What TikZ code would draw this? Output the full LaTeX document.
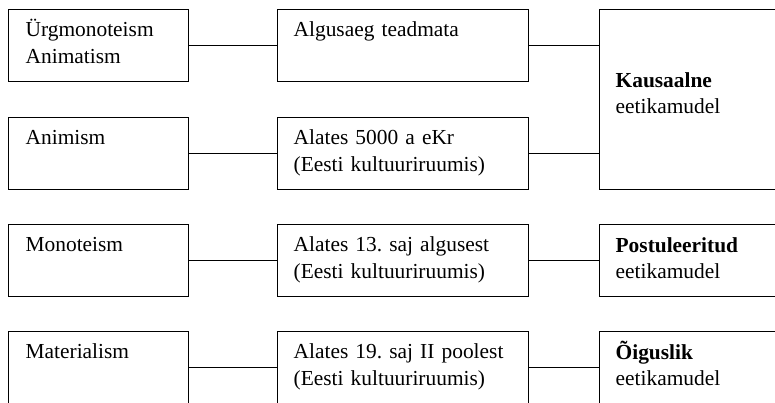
\documentclass[tikz,border=0pt]{standalone}
\usepackage{fontspec}
\setmainfont{Liberation Serif}
\frenchspacing

\begin{document}
\begin{tikzpicture}[x=1pt,y=-1pt,line width=1.3pt,
  box/.style={draw,inner sep=0pt,anchor=north west},
  txt/.style={inner sep=0pt,anchor=base west,align=left,text width=240pt,
    font=\fontsize{21.4}{26.8}\selectfont}]
\useasboundingbox (0,0) rectangle (775,402);
\clip (0,0) rectangle (775,402);
\foreach \i/\y/\a/\b in {1/9/{Ürgmonoteism\\Animatism}/{Algusaeg teadmata},
  2/117/{Animism}/{Alates 5000 a eKr\\(Eesti kultuuriruumis)},
  3/224/{Monoteism}/{Alates 13. saj algusest\\(Eesti kultuuriruumis)},
  4/331/{Materialism}/{Alates 19. saj II poolest\\(Eesti kultuuriruumis)}}
{
\node[box,minimum width=180,minimum height=72] (l\i) at (8,\y) {};
\node[box,minimum width=251,minimum height=72] (m\i) at (277,\y) {};
\node[txt] (lt\i) at (25,\y+27.5) {\a};
\node[txt] (mt\i) at (293,\y+27.5) {\b};
\draw (l\i.east) -- (m\i.west);
}
\node[box,minimum width=220,minimum height=180] (k) at (599,9) {};
\node[box,minimum width=220,minimum height=72] (p) at (599,224) {};
\node[box,minimum width=220,minimum height=72] (o) at (599,331) {};
\node[txt] (kt) at (615,87) {\textbf{Kausaalne}\\eetikamudel};
\node[txt] (pt) at (615,252) {\textbf{Postuleeritud}\\eetikamudel};
\node[txt] (ot) at (615,359) {\textbf{Õiguslik}\\eetikamudel};
\draw (m1.east) -- (m1.east -| k.west);
\draw (m2.east) -- (m2.east -| k.west);
\draw (m3.east) -- (p.west);
\draw (m4.east) -- (o.west);
\end{tikzpicture}
\end{document}
